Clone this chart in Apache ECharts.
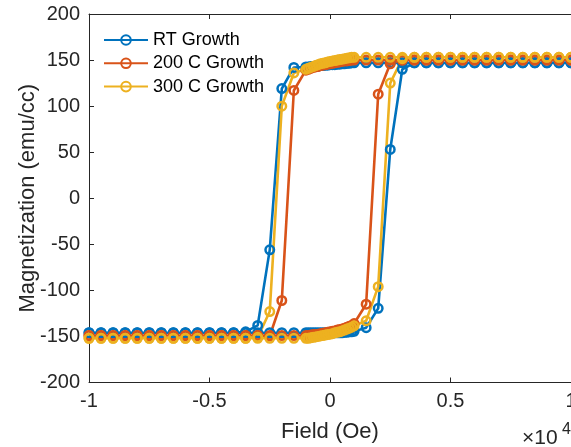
<!DOCTYPE html>
<html>
<head>
<meta charset="utf-8">
<script src="https://cdn.jsdelivr.net/npm/echarts@6/dist/echarts.min.js"></script>
<style>html,body{margin:0;padding:0;background:#fff;}#c{width:571px;height:447px;}</style>
</head>
<body>
<div id="c"></div>
<script>
// Field values (Oe), descending sweep then ascending sweep
const fieldDown = [10000,9500,9000,8500,8000,7500,7000,6500,6000,5500,5000,4500,4000,3500,3000,2500,2000,1500,
  1000,900,800,700,600,500,400,300,200,100,0,-100,-200,-300,-400,-500,-600,-700,-800,-900,-1000,
  -1500,-2000,-2500,-3000,-3500,-4000,-4500,-5000,-5500,-6000,-6500,-7000,-7500,-8000,-8500,-9000,-9500,-10000];
const fieldUp = [-10000,-9500,-9000,-8500,-8000,-7500,-7000,-6500,-6000,-5500,-5000,-4500,-4000,-3500,-3000,-2500,-2000,-1500,
  -1000,-900,-800,-700,-600,-500,-400,-300,-200,-100,0,100,200,300,400,500,600,700,800,900,1000,
  1500,2000,2500,3000,3500,4000,4500,5000,5500,6000,6500,7000,7500,8000,8500,9000,9500,10000];

const seriesNames = ['RT Growth', '200 C Growth', '300 C Growth'];

// Magnetization (emu/cc)
const rtDown = [147,147,147,147,147,147,147,147,147,147,147,147,147,147,147,147,147,147,
  147,147,146.5,146.5,146,146,145.5,145.5,145,145,145,144.5,144.5,144,144,143.5,143.5,143,143,142.5,142.5,
  142,119,-56,-138,-145,-146,-146,-146,-146,-146,-146,-146,-146,-146,-146,-146,-146,-146];
const rtUp = [-146,-146,-146,-146,-146,-146,-146,-146,-146,-146,-146,-146,-146,-146,-146,-146,-146,-146,
  -146,-146,-146,-146,-146,-146,-146,-146,-146,-146,-146,-146,-146,-146,-146,-146,-145.5,-145.5,-145,-145,-144.5,
  -140.5,-119.5,53,140,147,147,147,147,147,147,147,147,147,147,147,147,147,147];

const c200Down = [150,150,150,150,150,150,150,150,150,150,150,150,150,150,150,150,150,150,
  150,150,149.5,149,149,148.5,148,147.5,147,146.5,146,145.5,145,144.5,144,143,142.5,142,141,140,139,
  117,-111,-149.5,-149,-149,-149,-149,-149,-149,-149,-149,-149,-149,-149,-149,-149,-149,-149];
const c200Up = [-149,-149,-149,-149,-149,-149,-149,-149,-149,-149,-149,-149,-149,-149,-149,-149,-149,-149,
  -149,-149,-148.5,-148,-148,-147.5,-147,-146.5,-146,-145.5,-145,-144.5,-144,-143,-142.5,-142,-141,-140,-139,-138,-136,
  -115,113,146,150,150,150,150,150,150,150,150,150,150,150,150,150,150,150];

const c300Down = [153,153,153,153,153,153,153,153,153,153,153,153,153,153,153,153,153,153,
  153,153,152.5,152,151.5,151,150.5,150,149.5,149,148.5,148,147,146.5,146,145,144,143,142,141,140,
  136,100,-123,-151,-152,-152,-152,-152,-152,-152,-152,-152,-152,-152,-152,-152,-152,-152];
const c300Up = [-152,-152,-152,-152,-152,-152,-152,-152,-152,-152,-152,-152,-152,-152,-152,-152,-152,-152,
  -152,-152,-151.5,-151,-150.5,-150,-149.5,-149,-148.5,-148,-147.5,-147,-146,-145.5,-145,-144,-143,-142,-141,-140,-138.5,
  -133,-96,125,151.5,153,153,153,153,153,153,153,153,153,153,153,153,153,153];

const xTicksLabel = v => String(v / 10000);

function loop(down, up) {
  return fieldDown.map((f, i) => [f, down[i]]).concat(fieldUp.map((f, i) => [f, up[i]]));
}

const colors = ['#0072BD', '#D95319', '#EDB120'];
const FONT = '"Liberation Sans", Arial, Helvetica, sans-serif';
const values = [[rtDown, rtUp], [c200Down, c200Up], [c300Down, c300Up]];

const chart = echarts.init(document.getElementById('c'), null, {renderer: 'canvas'});
const axisColor = '#262626';
chart.setOption({
  animation: false,
  backgroundColor: '#fff',
  grid: {left: 89, top: 14, right: 0, bottom: 64.5, containLabel: false, outerBoundsMode: 'none'},
  legend: {
    orient: 'vertical', left: 103, top: 31, padding: 0,
    itemWidth: 44, itemHeight: 12, itemGap: 5.3,
    textStyle: {fontSize: 18, fontFamily: FONT, color: '#000'},
    data: seriesNames
  },
  xAxis: [{
    type: 'value', min: -10000, max: 10000, interval: 5000,
    name: 'Field (Oe)', nameLocation: 'middle', nameGap: 38, nameMoveOverlap: false,
    nameTextStyle: {fontSize: 22, fontFamily: FONT, color: axisColor},
    axisLine: {show: true, onZero: false, lineStyle: {color: axisColor, width: 1}},
    axisTick: {show: true, inside: true, length: 5, lineStyle: {color: axisColor}},
    axisLabel: {fontSize: 20, fontFamily: FONT, color: axisColor, margin: 9, formatter: xTicksLabel, showMaxLabel: true, showMinLabel: true},
    splitLine: {show: false}
  }, {
    type: 'value', position: 'top', min: -10000, max: 10000, interval: 5000,
    axisLine: {show: true, onZero: false, lineStyle: {color: axisColor, width: 1}},
    axisTick: {show: true, inside: true, length: 5, lineStyle: {color: axisColor}},
    axisLabel: {show: false}, splitLine: {show: false}
  }],
  yAxis: {
    type: 'value', min: -200, max: 200, interval: 50,
    name: 'Magnetization (emu/cc)', nameLocation: 'middle', nameGap: 50.5, nameMoveOverlap: false,
    nameTextStyle: {fontSize: 22, fontFamily: FONT, color: axisColor},
    axisLine: {show: true, onZero: false, lineStyle: {color: axisColor, width: 1}},
    axisTick: {show: true, inside: true, length: 5, lineStyle: {color: axisColor}},
    axisLabel: {fontSize: 20, fontFamily: FONT, color: axisColor, margin: 9},
    splitLine: {show: false}
  },
  graphic: [
    {type: 'text', left: 522, top: 428, style: {text: '×10', font: '21px ' + FONT, fill: axisColor}},
    {type: 'text', left: 562, top: 422, style: {text: '4', font: '16px ' + FONT, fill: axisColor}}
  ],
  series: seriesNames.map((name, k) => ({
    name: name, type: 'line', xAxisIndex: 0,
    data: loop(values[k][0], values[k][1]),
    symbol: 'circle', symbolSize: 8.5, showSymbol: true, showAllSymbol: true,
    lineStyle: {color: colors[k], width: 2.6},
    itemStyle: {color: 'rgba(255,255,255,0)', borderColor: colors[k], borderWidth: 2.5},
    color: colors[k],
    emphasis: {disabled: true}
  }))
});
</script>
</body>
</html>
